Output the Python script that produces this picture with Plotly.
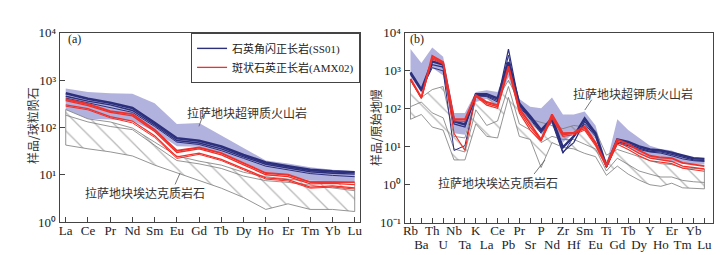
import plotly.graph_objects as go

W, H = 722, 255

# ---------------- data: panel (a) chondrite-normalised REE ----------------
REE = ["La", "Ce", "Pr", "Nd", "Sm", "Eu", "Gd", "Tb", "Dy", "Ho", "Er", "Tm", "Yb", "Lu"]

a_uk_upper = [667, 565, 531, 515, 324, 118, 125, 67, 36.5, 20, 17.2, 14.4, 12.7, 11.8]
a_uk_lower = [239, 152, 148, 138, 82, 40, 39, 29, 18.5, 11.3, 10, 7.5, 7.3, 7.2]

a_ad_upper = [239, 152, 131, 97, 49, 25, 19.4, 16, 11.3, 9.1, 8.1, 7.2, 7.2, 6.8]
a_ad_lower = [42.4, 35.4, 30.5, 25, 16, 10.9, 7.5, 5.2, 3.3, 1.85, 2.43, 1.85, 1.85, 1.67]
a_ad_inner = [182, 131, 105, 90, 42, 20, 17, 13.6, 9.4, 7.5, 6.9, 6.0, 5.2, 4.6]

a_ss01_1 = [531, 405, 333, 258, 125, 59, 52.4, 39.4, 26.2, 18.2, 15.2, 12.7, 11.8, 11.3]
a_ss01_2 = [457, 360, 300, 229, 113, 53, 47, 35.4, 23.9, 16.7, 13.9, 11.6, 10.8, 10.3]
a_ss01_3 = [418, 328, 266, 209, 105, 49, 43.7, 32.4, 22.2, 15.2, 12.7, 10.6, 9.7, 9.1]

a_amx02_1 = [394, 314, 222, 191, 90, 32.4, 37.6, 28.7, 17.7, 10.9, 10, 7.0, 7.0, 7.0]
a_amx02_2 = [371, 291, 209, 175, 82, 29.6, 35.4, 26.2, 16.2, 10, 9.1, 6.4, 6.6, 6.2]
a_amx02_3 = [300, 251, 169, 137, 67, 23.9, 28.7, 21.2, 13.5, 8.6, 7.9, 5.5, 5.8, 5.3]
a_amx02_4 = [282, 236, 160, 125, 61.8, 22.2, 27, 20, 12.7, 8.1, 7.4, 5.2, 5.5, 5.0]

# ---------------- data: panel (b) primitive-mantle-normalised ----------------
PM = ["Rb", "Ba", "Th", "U", "Nb", "Ta", "K", "La", "Ce", "Pb", "Pr", "Sr", "P", "Nd",
      "Zr", "Hf", "Sm", "Eu", "Ti", "Gd", "Tb", "Dy", "Y", "Ho", "Er", "Tm", "Yb", "Lu"]

b_uk_upper = [3760, 1600, 4130, 2340, 78, 78, 276, 310, 276, 1770, 182, 114, 103, 200,
              71, 71, 85, 36.5, 3.6, 53, 27.5, 17.1, 10.7, 8.8, 8.0, 6.0, 5.2, 5.0]
b_uk_lower = [685, 266, 1208, 753, 22.7, 20.7, 151, 182, 125, 685, 94, 44, 22.7, 44,
              12.9, 22.7, 30, 15.6, 2.84, 12.9, 9.7, 6.7, 5.0, 4.5, 4.1, 3.6, 3.43, 3.43]

b_ad_upper = [567, 200, 321, 388, 18.8, 17.1, 200, 220, 182, 567, 151, 53, 44, 36.5,
              30, 36.5, 33, 26.4, 6.0, 8.5, 7.0, 5.5, 4.3, 3.6, 3.4, 2.8, 2.7, 2.6]
b_ad_lower = [53, 71, 33, 27.5, 4.5, 4.5, 40, 18.8, 17.1, 200, 18.8, 15.6, 2.84, 12.9,
              9.7, 8.8, 6.7, 5.5, 1.77, 3.1, 1.9, 1.33, 1.0, 0.91, 1.1, 0.83, 0.80, 0.78]
b_ad_inner = [114, 151, 78, 58, 8.8, 7.3, 94, 36.5, 48, 388, 40, 27.5, 12.9, 18.8,
              15.6, 15.6, 11.7, 8.8, 2.3, 5.0, 3.4, 2.3, 1.9, 1.6, 1.6, 1.3, 1.2, 1.15]

b_ss01_1 = [912, 321, 1770, 1460, 46.7, 38.6, 242, 242, 189, 1700, 137, 64, 27.5, 56,
            9.7, 18.8, 56, 22.7, 3.1, 15.6, 13.4, 10.3, 8.5, 8.0, 7.0, 5.8, 5.0, 4.8]
b_ss01_2 = [828, 293, 1460, 1255, 40, 33, 228, 220, 166, 3760, 125, 58, 25, 50,
            7.3, 12.9, 46.7, 20.7, 2.9, 13.4, 11.7, 9.2, 7.6, 7.3, 6.3, 5.2, 4.5, 4.3]
b_ss01_3 = [797, 321, 1208, 1000, 8.0, 10.7, 220, 212, 151, 2580, 114, 53, 22.7, 44,
            6.7, 18.1, 40, 18.8, 2.84, 12.4, 10.7, 8.5, 7.3, 6.8, 5.8, 4.8, 4.3, 4.1]

b_amx02_1 = [623, 200, 2480, 1700, 53, 53, 228, 151, 125, 1330, 103, 40, 15.6, 71,
             22.7, 23.6, 34.4, 12.9, 3.3, 15.6, 11.7, 8.0, 5.8, 5.2, 5.0, 3.77, 3.43, 3.1]
b_amx02_2 = [589, 189, 2210, 1600, 48, 46.7, 220, 137, 114, 1208, 89, 33, 15, 61,
             20.7, 22.7, 30, 11.7, 3.1, 13.4, 9.7, 6.7, 5.0, 4.5, 4.1, 3.1, 2.84, 2.6]
b_amx02_3 = [567, 189, 2050, 1517, 22.7, 8.0, 212, 125, 103, 1100, 78, 27.5, 14.2, 56,
             18.8, 20.7, 27.5, 10.7, 2.9, 11.7, 8.5, 5.8, 4.3, 4.0, 3.6, 2.73, 2.44, 2.26]

LEG_SS01 = "石英角闪正长岩(SS01)"
LEG_AMX02 = "斑状石英正长岩(AMX02)"
TXT_UK = "拉萨地块超钾质火山岩"
TXT_AD = "拉萨地块埃达克质岩石"

# ---------------- styles ----------------
NAVY = "#2c2f7c"
RED = "#f0302a"
PURPLE = "rgba(178,178,222,1)"
GREY = "#7a7a7a"
AX = "#444444"
SERIF = "Liberation Serif, Times New Roman, serif"
CJK = "Noto Sans CJK SC"
MIX = "Liberation Serif, Noto Sans CJK SC"

fig = go.Figure()


def add_field(xa, ya, cats, upper, lower, fill, pattern=None, outline=None):
    idx = list(range(len(cats)))
    xs = idx + idx[::-1] + [idx[0]]
    ys = list(upper) + list(lower)[::-1] + [upper[0]]
    kw = dict(x=xs, y=ys, mode="lines", fill="toself", xaxis=xa, yaxis=ya,
              showlegend=False, hoverinfo="skip")
    if pattern:
        kw["fillcolor"] = "rgba(0,0,0,0)"
        kw["fillpattern"] = pattern
    else:
        kw["fillcolor"] = fill
    if outline:
        kw["line"] = dict(color=outline, width=0.8)
    else:
        kw["line"] = dict(width=0, color=fill)
    fig.add_trace(go.Scatter(**kw))


def add_line(xa, ya, cats, vals, color, width, name=None, legend=False):
    fig.add_trace(go.Scatter(x=list(range(len(cats))), y=vals, mode="lines",
                             xaxis=xa, yaxis=ya, line=dict(color=color, width=width),
                             name=name, showlegend=legend, hoverinfo="skip"))


hatch = dict(shape="\\", fgcolor="#6f6f6f", bgcolor="rgba(0,0,0,0)", size=13, solidity=0.1)

# panel (a)
add_field("x", "y", REE, a_uk_upper, a_uk_lower, PURPLE)
add_field("x", "y", REE, a_ad_upper, a_ad_lower, None, pattern=hatch, outline=GREY)
add_line("x", "y", REE, a_ad_inner, GREY, 0.8)
# panel (b)
add_field("x2", "y2", PM, b_uk_upper, b_uk_lower, PURPLE)
add_field("x2", "y2", PM, b_ad_upper, b_ad_lower, None, pattern=hatch, outline=GREY)
add_line("x2", "y2", PM, b_ad_inner, GREY, 0.8)

# SS01 lines
add_line("x", "y", REE, a_ss01_3, NAVY, 1.0)
add_line("x", "y", REE, a_ss01_2, NAVY, 1.4, LEG_SS01, True)
add_line("x", "y", REE, a_ss01_1, NAVY, 2.6)
add_line("x2", "y2", PM, b_ss01_3, NAVY, 1.0)
add_line("x2", "y2", PM, b_ss01_2, NAVY, 1.2)
add_line("x2", "y2", PM, b_ss01_1, NAVY, 2.4)
# AMX02 lines
add_line("x", "y", REE, a_amx02_4, RED, 1.0)
add_line("x", "y", REE, a_amx02_3, RED, 1.3)
add_line("x", "y", REE, a_amx02_2, RED, 1.3, LEG_AMX02, True)
add_line("x", "y", REE, a_amx02_1, RED, 1.9)
add_line("x2", "y2", PM, b_amx02_3, RED, 1.1)
add_line("x2", "y2", PM, b_amx02_2, RED, 1.3)
add_line("x2", "y2", PM, b_amx02_1, RED, 1.9)

# empty trace so that the second-row label axis of panel (b) is created
fig.add_trace(go.Scatter(x=[], y=[], xaxis="x3", yaxis="y2", showlegend=False,
                         hoverinfo="skip"))

# ---------------- axes ----------------
def px(xp):
    return xp / W


def py(yp):
    return 1 - yp / H


tickfont = dict(family=SERIF, size=13, color="#222")
axis_common = dict(showgrid=False, zeroline=False, showline=True, mirror=True,
                   linecolor=AX, linewidth=1, ticks="inside", ticklen=5, tickcolor=AX,
                   tickangle=0, tickfont=tickfont)

a_ticks = [1, 10, 100, 1000, 10000]
a_ticktext = ["10⁰", "10¹", "10²", "10³", "10⁴"]
b_ticks = [0.1, 1, 10, 100, 1000, 10000]
b_ticktext = ["10⁻¹", "10⁰", "10¹", "10²", "10³", "10⁴"]

pm_even = [i for i in range(len(PM)) if i % 2 == 0]
pm_odd = [i for i in range(len(PM)) if i % 2 == 1]
b_range = [-0.55, 27.77]

fig.update_layout(
    width=W, height=H, margin=dict(l=0, r=0, t=0, b=0),
    paper_bgcolor="white", plot_bgcolor="white",
    xaxis=dict(domain=[px(50), px(352)], range=[-0.27, 13.24], tickmode="array",
               tickvals=list(range(len(REE))), ticktext=REE, anchor="y",
               ticklabelstandoff=-4, **axis_common),
    yaxis=dict(domain=[py(220), py(19)], type="log", range=[0, 4], tickmode="array",
               tickvals=a_ticks, ticktext=a_ticktext, anchor="x", **axis_common),
    xaxis2=dict(domain=[px(396.7), px(706.7)], range=b_range, tickmode="array",
                tickvals=pm_even, ticktext=[PM[i] for i in pm_even],
                anchor="y2", ticklabelstandoff=-4, **axis_common),
    xaxis3=dict(overlaying="x2", anchor="y2", side="bottom", range=b_range,
                tickmode="array", tickvals=pm_odd, ticktext=[PM[i] for i in pm_odd],
                showgrid=False, zeroline=False, showline=False,
                ticks="inside", ticklen=5, tickcolor=AX,
                tickangle=0, tickfont=tickfont, ticklabelstandoff=12),
    yaxis2=dict(domain=[py(220.7), py(19)], type="log", range=[-1, 4], tickmode="array",
                tickvals=b_ticks, ticktext=b_ticktext, anchor="x2", **axis_common),
    legend=dict(x=px(352), xanchor="right", y=py(19), yanchor="top",
                bgcolor="white", bordercolor=AX, borderwidth=1,
                font=dict(family=MIX, size=11, color="#222"),
                tracegroupgap=0, itemwidth=30, traceorder="normal"),
)

ann_font = dict(family=CJK, size=12, color="#333")
annotations = [
    dict(x=px(65), y=py(26), text="(a)", font=dict(family=SERIF, size=12, color="#222")),
    dict(x=px(409), y=py(25), text="(b)", font=dict(family=SERIF, size=12, color="#222")),
    dict(x=px(238), y=py(103.5), text=TXT_UK, font=ann_font),
    dict(x=px(135.5), y=py(188.3), text=TXT_AD, font=ann_font),
    dict(x=px(626.3), y=py(83), text=TXT_UK, font=ann_font),
    dict(x=px(490.5), y=py(177.5), text=TXT_AD, font=ann_font),
    dict(x=px(22), y=py(117), text="样品/球粒陨石", textangle=-90, font=ann_font),
    dict(x=px(367), y=py(119), text="样品/原始地幔", textangle=-90, font=ann_font),
]
for a in annotations:
    a.update(xref="paper", yref="paper", showarrow=False, xanchor="center", yanchor="middle")
fig.update_layout(annotations=annotations)

leaders = [((194, 106.7), (190, 118.3)), ((166, 180), (171, 168)),
           ((585, 90), (578, 101)), ((527, 169), (538, 154))]
fig.update_layout(shapes=[
    dict(type="line", xref="paper", yref="paper", x0=px(p[0]), y0=py(p[1]),
         x1=px(q[0]), y1=py(q[1]), line=dict(color="#555", width=0.8))
    for p, q in leaders])

fig.write_html("out.html")
